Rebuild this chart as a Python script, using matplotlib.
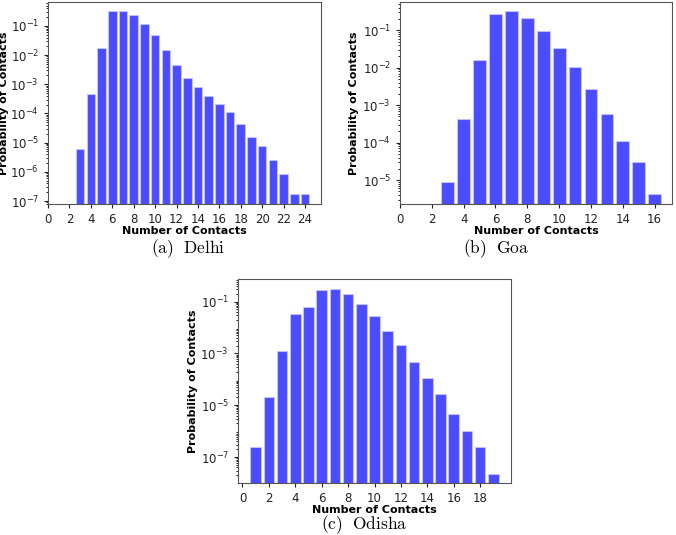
import matplotlib
matplotlib.use("Agg")
import matplotlib.pyplot as plt
from matplotlib.ticker import LogLocator, FixedLocator

plt.rcParams['mathtext.fontset'] = 'cm'

delhi_x = list(range(3, 25))
delhi_p = [6.3e-6, 4.6e-4, 1.8e-2, 0.32, 0.335, 0.23, 0.114, 0.048, 0.0147, 0.0045,
           0.0017, 7.8e-4, 4.0e-4, 2.1e-4, 1.08e-4, 4.5e-5, 1.55e-5, 7.4e-6, 2.5e-6,
           8.4e-7, 1.7e-7, 1.7e-7]

goa_x = list(range(3, 17))
goa_p = [8.8e-6, 4.3e-4, 0.0158, 0.267, 0.328, 0.209, 0.098, 0.0345, 0.0103, 0.00273,
         5.9e-4, 1.1e-4, 3.08e-5, 4.15e-6]

odisha_x = list(range(1, 20))
odisha_p = [2.4e-7, 2.1e-5, 1.3e-3, 0.0344, 0.0605, 0.29, 0.317, 0.192, 0.079, 0.0272,
            0.0074, 0.00207, 4.9e-4, 1.18e-4, 2.76e-5, 4.8e-6, 1.04e-6, 2.4e-7, 2.3e-8]
odisha_yticks = [1e-7, 1e-5, 1e-3, 1e-1]

captions = [r'$\mathrm{(a)\ \ Delhi}$', r'$\mathrm{(b)\ \ Goa}$', r'$\mathrm{(c)\ \ Odisha}$']

W, H = 676, 535
fig = plt.figure(figsize=(W / 100, H / 100), dpi=100)

def make_ax(l, r, t, b):
    return fig.add_axes([l / W, 1 - b / H, (r - l) / W, (b - t) / H])

panels = [
    (make_ax(48, 321, 2, 204), delhi_x, delhi_p, (7.9e-8, 0.66), None, range(0, 25, 2), True, 1),
    (make_ax(400, 672, 2, 204), goa_x, goa_p, (2.3e-6, 0.57), None, range(0, 17, 2), True, 2),
    (make_ax(238, 511, 279, 483), odisha_x, odisha_p, (1.0e-8, 0.75), odisha_yticks, range(0, 19, 2), False, 2),
]

for ax, xs, ps, ylim, yt, xt, left0, ypad in panels:
    ax.bar(xs, ps, width=0.8, color='blue', alpha=0.7, edgecolor='#ccccff', linewidth=0.8)
    ax.set_yscale('log')
    ax.set_ylim(*ylim)
    if left0:
        ax.set_xlim(left=0)
    ax.set_xticks(list(xt))
    if yt is None:
        ax.yaxis.set_major_locator(LogLocator(base=10, numticks=20))
    else:
        ax.yaxis.set_major_locator(FixedLocator(yt))
    ax.yaxis.set_minor_locator(LogLocator(base=10, subs=range(2, 10), numticks=20))
    ax.tick_params(axis='both', labelsize=8.5, colors='#222222', length=3)
    ax.tick_params(axis='y', which='minor', length=1.5)
    for s in ax.spines.values():
        s.set_color('#555555')
    ax.set_xlabel('Number of Contacts', fontsize=8, fontweight='bold', labelpad=0)
    ax.set_ylabel('Probability of Contacts', fontsize=8, fontweight='bold', labelpad=ypad)

fig.text(188 / W, 1 - 249 / H, captions[0], ha='center', va='center', fontsize=12.5)
fig.text(496 / W, 1 - 249 / H, captions[1], ha='center', va='center', fontsize=12.5)
fig.text(364 / W, 1 - 525 / H, captions[2], ha='center', va='center', fontsize=12.5)

fig.savefig('out.png', dpi=100)
